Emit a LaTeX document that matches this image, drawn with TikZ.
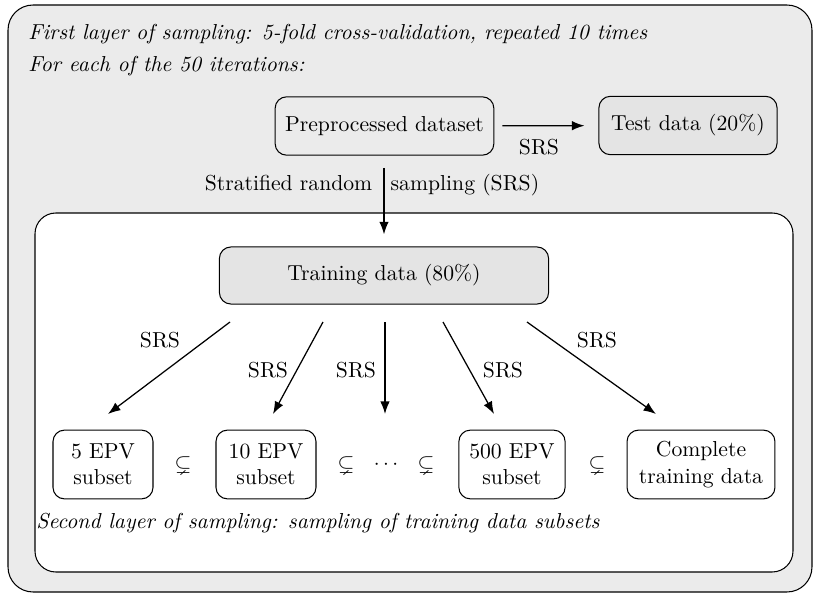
\documentclass[tikz,border=0pt]{standalone}
\usepackage{amssymb}
\usetikzlibrary{arrows.meta}
\definecolor{bgc}{HTML}{EBEBEB}
\definecolor{boxc}{HTML}{E4E4E4}
\begin{document}
\begin{tikzpicture}[x=0.48pt,y=-0.48pt,
  every node/.style={font=\fontsize{10.4pt}{12.6pt}\selectfont},
  box/.style={draw, line width=0.5pt, rounded corners=5.5pt, align=center, inner sep=0pt},
  arr/.style={-{Latex[length=6pt,width=4.5pt]}, line width=0.6pt},
  lab/.style={inner sep=0pt},
  frame/.style={draw, line width=0.5pt}]
\useasboundingbox (0,0) rectangle (815,595);
\draw[frame, fill=bgc, rounded corners=12pt] (8,5) rectangle (812,592);
\node[lab, anchor=base west] (t1) at (28,40) {\itshape First layer of sampling: 5-fold cross-validation, repeated 10 times};
\node[lab, anchor=base west] (t2) at (28,72) {\itshape For each of the 50 iterations:};
\node[box, fill=bgc, minimum width=105pt, minimum height=28pt] (pre) at (384.5,126) {Preprocessed dataset};
\node[box, fill=boxc, minimum width=85.5pt, minimum height=28pt] (test) at (688,125.5) {Test data (20\%)};
\draw[arr, shorten <=3.8pt, shorten >=6.7pt] (pre) -- (test);
\node[lab] (srs0) at (539,147) {SRS};
\draw[frame, fill=white, rounded corners=10pt] (35,213) rectangle (793,572);
\node[box, fill=boxc, minimum width=158pt, minimum height=27.4pt] (tr) at (384,275.5) {Training data (80\%)};
\draw[arr, shorten <=5.8pt, shorten >=5.8pt] (pre.south -| tr.north) -- (tr.north);
\node[lab] (strat) at (372,185) {Stratified random\hspace{0.85em}sampling (SRS)};
\node[box, minimum width=48pt, minimum height=33pt] (n1) at (103,464.5) {5 EPV\\subset};
\node[box, minimum width=48pt, minimum height=33pt] (n2) at (266,464.5) {10 EPV\\subset};
\node[box, minimum width=51pt, minimum height=33pt] (n3) at (512,464.5) {500 EPV\\subset};
\node[box, minimum width=71pt, minimum height=33pt] (n4) at (701,464.5) {Complete\\training data};
\node[lab] (c1) at (183,465) {$\subsetneq$};
\node[lab] (c2) at (346,465) {$\subsetneq$};
\node[lab] (dots) at (386,465) {$\cdots$};
\node[lab] (c3) at (426,465) {$\subsetneq$};
\node[lab] (c4) at (597,465) {$\subsetneq$};
\coordinate (s1) at (230,322); \coordinate (e1) at (108,414);
\coordinate (s2) at (323,322); \coordinate (e2) at (273,414);
\coordinate (s3) at (385,322); \coordinate (e3) at (385,414);
\coordinate (s4) at (443,322); \coordinate (e4) at (494,414);
\coordinate (s5) at (527,322); \coordinate (e5) at (656,414);
\foreach \i in {1,...,5} {\draw[arr] (s\i) -- (e\i);}
\node[lab] (l1) at (160,340) {SRS};
\node[lab] (l2) at (268,370) {SRS};
\node[lab] (l3) at (356,370) {SRS};
\node[lab] (l4) at (503,370) {SRS};
\node[lab] (l5) at (597,340) {SRS};
\node[lab, anchor=base west] (t3) at (36,529) {\itshape Second layer of sampling: sampling of training data subsets};
\end{tikzpicture}
\end{document}
